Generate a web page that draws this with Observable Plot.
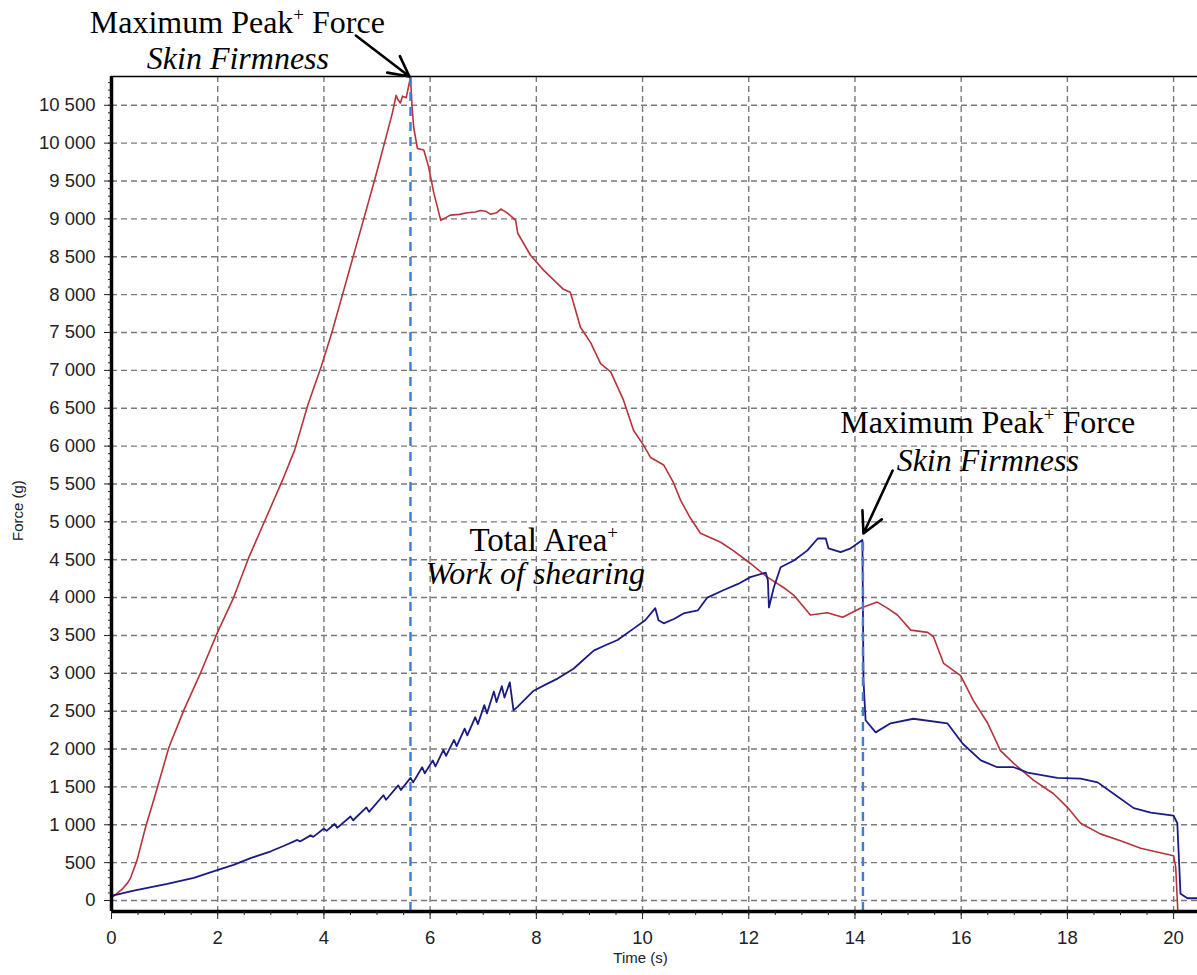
<!DOCTYPE html>
<html><head><meta charset="utf-8">
<script src="https://cdn.jsdelivr.net/npm/d3@7"></script>
<script src="https://cdn.jsdelivr.net/npm/@observablehq/plot@0.6"></script>
<style>
html,body{margin:0;padding:0;background:#fff;overflow:hidden;}
#chart{width:1197px;height:975px;}
</style></head><body><div id="chart"></div>
<script>
// ---- data ----
const redTime = [0, 0.1, 0.2, 0.3, 0.36, 0.48, 0.64, 0.83, 1.08, 1.36, 1.68, 1.99, 2.30, 2.58, 2.94, 3.22, 3.45, 3.70, 3.95, 4.15, 4.35, 4.55, 4.75, 4.95, 5.14, 5.29, 5.36, 5.39, 5.44, 5.48, 5.55, 5.63, 5.66, 5.69, 5.76, 5.88, 5.97, 6.07, 6.20, 6.38, 6.55, 6.70, 6.85, 6.95, 7.05, 7.14, 7.25, 7.33, 7.45, 7.55, 7.61, 7.65, 7.89, 8.14, 8.51, 8.64, 8.70, 8.83, 9.02, 9.21, 9.40, 9.64, 9.83, 10.02, 10.15, 10.40, 10.58, 10.72, 10.90, 11.09, 11.47, 11.71, 12.03, 12.35, 12.66, 12.85, 13.16, 13.48, 13.77, 14.10, 14.42, 14.61, 14.80, 15.05, 15.37, 15.48, 15.67, 15.99, 16.23, 16.50, 16.74, 16.99, 17.36, 17.74, 18.00, 18.25, 18.62, 19.00, 19.38, 19.81, 20.00, 20.04, 20.07, 20.08];
const redForce = [40, 90, 150, 230, 300, 530, 965, 1410, 2020, 2510, 3010, 3530, 4000, 4520, 5100, 5550, 5950, 6550, 7050, 7500, 8000, 8500, 9000, 9500, 10000, 10400, 10630, 10580, 10530, 10620, 10600, 10870, 10480, 10210, 9930, 9910, 9690, 9340, 8980, 9050, 9060, 9080, 9090, 9110, 9100, 9060, 9080, 9130, 9080, 9020, 8980, 8810, 8520, 8320, 8070, 8030, 7890, 7570, 7370, 7090, 6980, 6610, 6210, 6010, 5850, 5750, 5520, 5280, 5050, 4850, 4730, 4620, 4450, 4270, 4130, 4030, 3770, 3800, 3740, 3860, 3940, 3860, 3770, 3570, 3540, 3480, 3130, 2970, 2640, 2340, 1980, 1810, 1590, 1410, 1230, 1020, 880, 790, 690, 620, 590, 440, 0, -145];

const blueTime = [0, 0.42, 1.05, 1.55, 1.99, 2.3, 2.62, 3.0, 3.24, 3.5, 3.55, 3.75, 3.8, 4.0, 4.05, 4.2, 4.25, 4.5, 4.55, 4.8, 4.85, 5.12, 5.17, 5.4, 5.45, 5.63, 5.68, 5.85, 5.9, 6.05, 6.1, 6.25, 6.3, 6.45, 6.5, 6.65, 6.7, 6.85, 6.9, 7.02, 7.07, 7.2, 7.25, 7.35, 7.4, 7.5, 7.57, 7.65, 7.95, 8.2, 8.4, 8.7, 9.08, 9.3, 9.53, 9.83, 10.05, 10.24, 10.30, 10.40, 10.6, 10.77, 11.04, 11.22, 11.53, 11.8, 12.03, 12.32, 12.36, 12.38, 12.47, 12.6, 12.85, 13.1, 13.3, 13.45, 13.5, 13.73, 13.92, 14.14, 14.16, 14.2, 14.39, 14.67, 15.1, 15.74, 16.03, 16.37, 16.68, 16.99, 17.25, 17.81, 18.25, 18.57, 18.87, 19.25, 19.57, 20.0, 20.07, 20.13, 20.26, 20.45];
const blueForce = [60, 130, 220, 300, 400, 470, 560, 650, 720, 800, 780, 860, 840, 950, 920, 1010, 960, 1110, 1060, 1230, 1170, 1390, 1330, 1520, 1460, 1620, 1560, 1760, 1680, 1850, 1770, 1990, 1910, 2120, 2040, 2270, 2180, 2420, 2330, 2580, 2470, 2760, 2620, 2830, 2680, 2880, 2510, 2560, 2770, 2860, 2930, 3060, 3300, 3370, 3440, 3590, 3700, 3860, 3700, 3660, 3720, 3790, 3830, 4000, 4100, 4180, 4270, 4330, 4230, 3870, 4130, 4400, 4490, 4620, 4780, 4780, 4650, 4600, 4650, 4760, 2910, 2380, 2220, 2340, 2400, 2340, 2070, 1850, 1760, 1760, 1690, 1620, 1610, 1560, 1410, 1220, 1160, 1120, 1020, 90, 30, 30];

const xTicks = [0, 2, 4, 6, 8, 10, 12, 14, 16, 18, 20];
const yTicks = [0, 500, 1000, 1500, 2000, 2500, 3000, 3500, 4000, 4500, 5000, 5500, 6000, 6500, 7000, 7500, 8000, 8500, 9000, 9500, 10000, 10500];
const xDomain = [0, 20.45];
const yDomain = [-145, 10880];

const peakTimes = [5.63, 14.15];
const peakForces = [10880, 4760];

// annotation anchors (data coordinates)
const annRegular = [
  {t: 2.37, f: 11460, text: "Maximum Peak⁺ Force", size: 32},
  {t: 16.5, f: 6179, text: "Maximum Peak⁺ Force", size: 32},
  {t: 8.14, f: 4621, text: "Total Area⁺", size: 33}
];
const annItalic = [
  {t: 2.38, f: 10985, text: "Skin Firmness"},
  {t: 16.5, f: 5677, text: "Skin Firmness"},
  {t: 7.98, f: 4185, text: "Work of shearing"}
];
const arrowStartT = [4.6, 14.71];
const arrowStartF = [11421, 5677];
const arrowEndT = [5.61, 14.16];
const arrowEndF = [10880, 4846];

// ---- build ----
const red = redTime.map((t, i) => ({t, f: redForce[i]}));
const blue = blueTime.map((t, i) => ({t, f: blueForce[i]}));
const peaks = peakTimes.map((t, i) => ({t, f: peakForces[i]}));
const arrows = arrowStartT.map((t, i) => ({x1: t, y1: arrowStartF[i], x2: arrowEndT[i], y2: arrowEndF[i]}));
const xMinor = d3.range(0, 20.5, 0.5);
const yMinor = d3.range(0, 10801, 100);
const fmt = d3.formatLocale({decimal: ".", thousands: " ", grouping: [3], currency: ["", ""]}).format(",d");
const grid = {stroke: "#7a7a7a", strokeWidth: 1.4, strokeDasharray: "6,4"};
const serif = "Liberation Serif, Times New Roman, serif";

const plot = Plot.plot({
  width: 1197, height: 975,
  marginLeft: 111, marginRight: 0, marginTop: 76, marginBottom: 64,
  x: {domain: xDomain, label: null},
  y: {domain: yDomain, label: null},
  style: {fontFamily: "Liberation Sans, Arial, sans-serif", fontSize: "18.5px", color: "#222", background: "white", overflow: "visible"},
  marks: [
    Plot.ruleX(xTicks.filter(d => d > 0), grid),
    Plot.ruleY(yTicks, grid),
    Plot.line(red, {x: "t", y: "f", stroke: "#b7333c", strokeWidth: 1.6}),
    Plot.line(blue, {x: "t", y: "f", stroke: "#1b1b85", strokeWidth: 1.8}),
    Plot.ruleX(peaks, {x: "t", y1: yDomain[0], y2: "f", stroke: "#3b7fd3", strokeWidth: 2.4, strokeDasharray: "9,6"}),
    Plot.ruleX([0], {stroke: "black", strokeWidth: 3.5}),
    Plot.ruleY([yDomain[0]], {stroke: "black", strokeWidth: 3.5}),
    Plot.ruleY([yDomain[1]], {stroke: "black", strokeWidth: 1.5}),
    Plot.axisX(xTicks, {tickSize: 8, tickPadding: 11, fontSize: 18.5, label: null, tickFormat: d => String(d)}),
    Plot.axisX(xMinor, {tickSize: 4, text: null, label: null}),
    Plot.axisY(yTicks, {tickSize: 7, tickPadding: 9, fontSize: 18.5, label: null, tickFormat: fmt}),
    Plot.axisY(yMinor, {tickSize: 3, text: null, label: null}),
    Plot.text(["Time (s)"], {frameAnchor: "bottom", dx: -14, dy: 51, fontSize: 15, fill: "#222"}),
    Plot.text(["Force (g)"], {frameAnchor: "left", dx: -93, dy: 47, rotate: -90, fontSize: 15, fill: "#222"}),
    Plot.arrow(arrows, {x1: "x1", y1: "y1", x2: "x2", y2: "y2", stroke: "black", strokeWidth: 2.6, headLength: 20, headAngle: 55}),
    Plot.text(annRegular.slice(0, 2), {x: "t", y: "f", text: "text", fontFamily: serif, fontSize: 32, fill: "black", lineAnchor: "bottom", textAnchor: "middle"}),
    Plot.text(annRegular.slice(2), {x: "t", y: "f", text: "text", fontFamily: serif, fontSize: 33, fill: "black", lineAnchor: "bottom", textAnchor: "middle"}),
    Plot.text(annItalic, {x: "t", y: "f", text: "text", fontFamily: serif, fontSize: 32, fontStyle: "italic", fill: "black", lineAnchor: "bottom", textAnchor: "middle"})
  ]
});

// superscript "+" handling
const ns = "http://www.w3.org/2000/svg";
for (const t of plot.querySelectorAll("text")) {
  const s = t.textContent;
  if (!s.includes("⁺")) continue;
  const [a, b] = s.split("⁺");
  while (t.firstChild) t.removeChild(t.firstChild);
  t.appendChild(document.createTextNode(a));
  const sup = document.createElementNS(ns, "tspan");
  sup.setAttribute("dy", "-12");
  sup.setAttribute("font-size", "19");
  sup.textContent = "+";
  t.appendChild(sup);
  if (b) {
    const rest = document.createElementNS(ns, "tspan");
    rest.setAttribute("dy", "12");
    rest.textContent = b;
    t.appendChild(rest);
  }
}
document.getElementById("chart").appendChild(plot);
</script>
</body></html>
